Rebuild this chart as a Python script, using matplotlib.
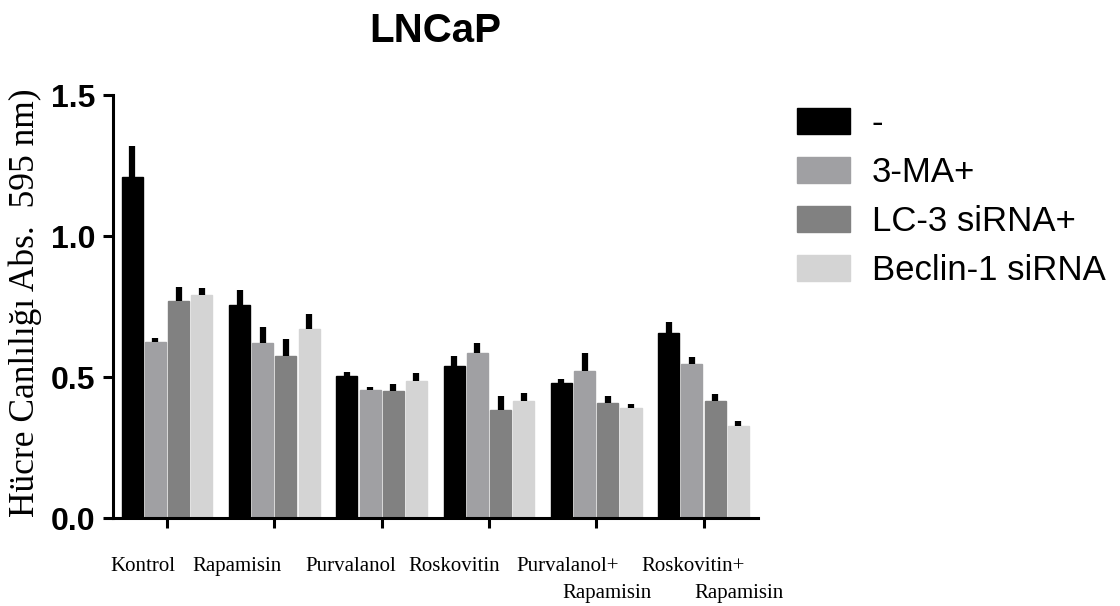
import numpy as np
import matplotlib
matplotlib.use("Agg")
import matplotlib.pyplot as plt
import matplotlib.transforms as mtransforms

# ---- data ----
groups = ["Kontrol", "Rapamisin", "Purvalanol", "Roskovitin", "Purvalanol+", "Roskovitin+"]
second_lines = ["", "", "", "", "Rapamisin", "Rapamisin"]
series = ["-", "3-MA+", "LC-3 siRNA+", "Beclin-1 siRNA"]

v_none = [1.21, 0.755, 0.505, 0.54, 0.48, 0.655]
v_3ma = [0.625, 0.622, 0.455, 0.585, 0.522, 0.545]
v_lc3 = [0.77, 0.575, 0.452, 0.383, 0.408, 0.415]
v_beclin = [0.792, 0.672, 0.485, 0.415, 0.392, 0.328]

e_none = [0.11, 0.055, 0.012, 0.035, 0.015, 0.04]
e_3ma = [0.015, 0.055, 0.01, 0.035, 0.062, 0.025]
e_lc3 = [0.05, 0.062, 0.025, 0.05, 0.024, 0.024]
e_beclin = [0.025, 0.052, 0.03, 0.03, 0.014, 0.016]

values = [v_none, v_3ma, v_lc3, v_beclin]
errors = [e_none, e_3ma, e_lc3, e_beclin]
colors = ["#000000", "#a0a0a3", "#818181", "#d4d4d4"]

# ---- figure ----
fig = plt.figure(figsize=(11.2, 6.06), dpi=100)
ax = fig.add_axes([0.101, 0.145, 0.576, 0.698])

x = np.arange(len(groups))
step = 0.216
width = 0.196
for k, (vals, errs, c, name) in enumerate(zip(values, errors, colors, series)):
    pos = x + (k - 1.5) * step
    ax.bar(pos, vals, width=width, color=c, edgecolor=c, linewidth=1.0,
           label=name, zorder=2)
    ax.errorbar(pos, vals, yerr=[np.zeros(len(vals)), errs], fmt="none",
                ecolor="black", elinewidth=4.5, capsize=0, zorder=3)

ax.set_xlim(-0.503, 5.51)
ax.set_ylim(0, 1.5)
ax.set_yticks([0.0, 0.5, 1.0, 1.5])
ax.set_yticklabels(["0.0", "0.5", "1.0", "1.5"], fontfamily="Liberation Sans",
                   fontweight="bold", fontsize=23)
ax.set_xticks(x)
ax.set_xticklabels([])
for s in ["top", "right"]:
    ax.spines[s].set_visible(False)
for s in ["left", "bottom"]:
    ax.spines[s].set_linewidth(2.2)
ax.tick_params(axis="both", width=2.2, length=7, direction="out")
ax.tick_params(axis="y", pad=6)

ax.set_title("LNCaP", fontfamily="Liberation Sans", fontweight="bold",
             fontsize=29, pad=38)
ax.set_ylabel("Hücre Canlılığı Abs.  595 nm)", fontfamily="Liberation Serif",
              fontsize=25.5)
ax.yaxis.set_label_coords(-0.110, 0.51)

# category labels (offset from the tick as in the original figure)
first_off = [-0.23, -0.345, -0.29, -0.32, -0.27, -0.10]
second_off = [0, 0, 0, 0, 0.10, 0.33]
trans = mtransforms.blended_transform_factory(ax.transData, fig.transFigure)
for i, (g, g2) in enumerate(zip(groups, second_lines)):
    ax.text(i + first_off[i], 1 - 571 / 606, g, transform=trans, ha="center",
            va="baseline", fontfamily="Liberation Serif", fontsize=15, clip_on=False)
    if g2:
        ax.text(i + second_off[i], 1 - 598 / 606, g2, transform=trans, ha="center",
                va="baseline", fontfamily="Liberation Serif", fontsize=15, clip_on=False)

leg = fig.legend(loc="upper left", bbox_to_anchor=(797 / 1120, 1 - 107 / 606),
                 frameon=False, prop={"family": "Liberation Sans", "size": 25},
                 handlelength=1.53, handleheight=0.78, handletextpad=0.62,
                 labelspacing=0.46, borderaxespad=0, borderpad=0)

fig.savefig("out.png", dpi=100)
